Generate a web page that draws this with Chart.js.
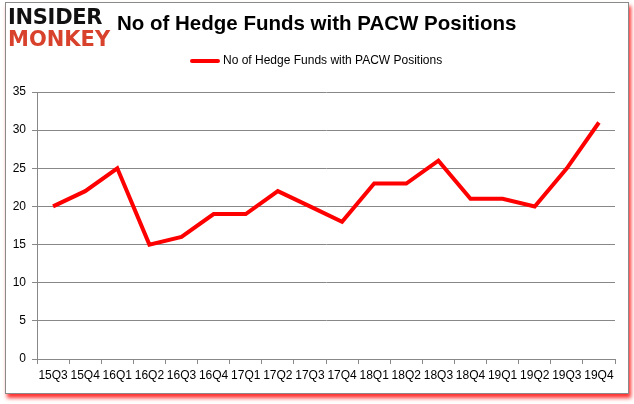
<!DOCTYPE html>
<html>
<head>
<meta charset="utf-8">
<script src="https://cdn.jsdelivr.net/npm/chart.js@4"></script>
<style>
  body { margin: 0; background: #fff; }
  #wrap { position: relative; width: 634px; height: 404px; overflow: hidden; }
  #frame {
    position: absolute; left: 5px; top: 2px; width: 622px; height: 390px;
    border: 1px solid #8a8a8a; box-shadow: 2px 4px 4px #ff3030;
    background: #fff;
  }
  canvas { position: absolute; left: 0; top: 0; }
  #logo { position: absolute; left: 8px; top: 6px; font-family: "DejaVu Sans", sans-serif; font-weight: bold; line-height: 22px; }
  #logo .a { color: #111; font-size: 21px; letter-spacing: -0.3px; }
  #logo .b { color: #d8412b; font-size: 21px; letter-spacing: 0px; }
  #title { position: absolute; left: 117px; top: 11px; font-family: "Liberation Sans", sans-serif; font-weight: bold; font-size: 20.5px; color: #000; white-space: nowrap; }
  #legend { position: absolute; left: 190px; top: 53px; font-family: "Liberation Sans", sans-serif; font-size: 12px; color: #000; white-space: nowrap; }
  #legend span.sw { display: inline-block; width: 30px; height: 4px; background: #ff0000; border-radius: 2px; vertical-align: middle; margin-right: 3px; }
</style>
</head>
<body>
<div id="wrap">
  <div id="frame"></div>
  <canvas id="myChart" width="634" height="404"></canvas>
  <div id="logo"><div class="a">INSIDER</div><div class="b">MONKEY</div></div>
  <div id="title">No of Hedge Funds with PACW Positions</div>
  <div id="legend"><span class="sw"></span>No of Hedge Funds with PACW Positions</div>
</div>
<script>
const quarters = ['15Q3','15Q4','16Q1','16Q2','16Q3','16Q4','17Q1','17Q2','17Q3','17Q4','18Q1','18Q2','18Q3','18Q4','19Q1','19Q2','19Q3','19Q4'];
const hedgeFunds = [20, 22, 25, 15, 16, 19, 19, 22, 20, 18, 23, 23, 26, 21, 21, 20, 25, 31];
const seriesName = 'No of Hedge Funds with PACW Positions';

const ctx = document.getElementById('myChart').getContext('2d');
new Chart(ctx, {
  type: 'line',
  data: {
    labels: quarters,
    datasets: [{
      label: seriesName,
      data: hedgeFunds,
      borderColor: '#ff0000',
      borderWidth: 4,
      pointRadius: 0,
      fill: false,
      tension: 0
    }]
  },
  options: {
    responsive: false,
    animation: false,
    layout: { padding: { left: 8, right: 19, top: 92, bottom: 10 } },
    plugins: { legend: { display: false }, tooltip: { enabled: false } },
    scales: {
      x: {
        offset: true,
        grid: { offset: true, drawOnChartArea: false, drawTicks: true, tickLength: 5, color: '#888' },
        border: { color: '#888' },
        ticks: { color: '#000', font: { family: 'Liberation Sans', size: 12 }, maxRotation: 0, autoSkip: false, padding: 4 },
        afterFit: (scale) => { scale.height = 35; }
      },
      y: {
        min: 0,
        max: 35,
        ticks: { stepSize: 5, color: '#000', font: { family: 'Liberation Sans', size: 12 }, padding: 6 },
        grid: { color: '#888', tickLength: 5 },
        border: { color: '#888' },
        afterFit: (scale) => { scale.width = 29; }
      }
    }
  }
});
</script>
</body>
</html>
